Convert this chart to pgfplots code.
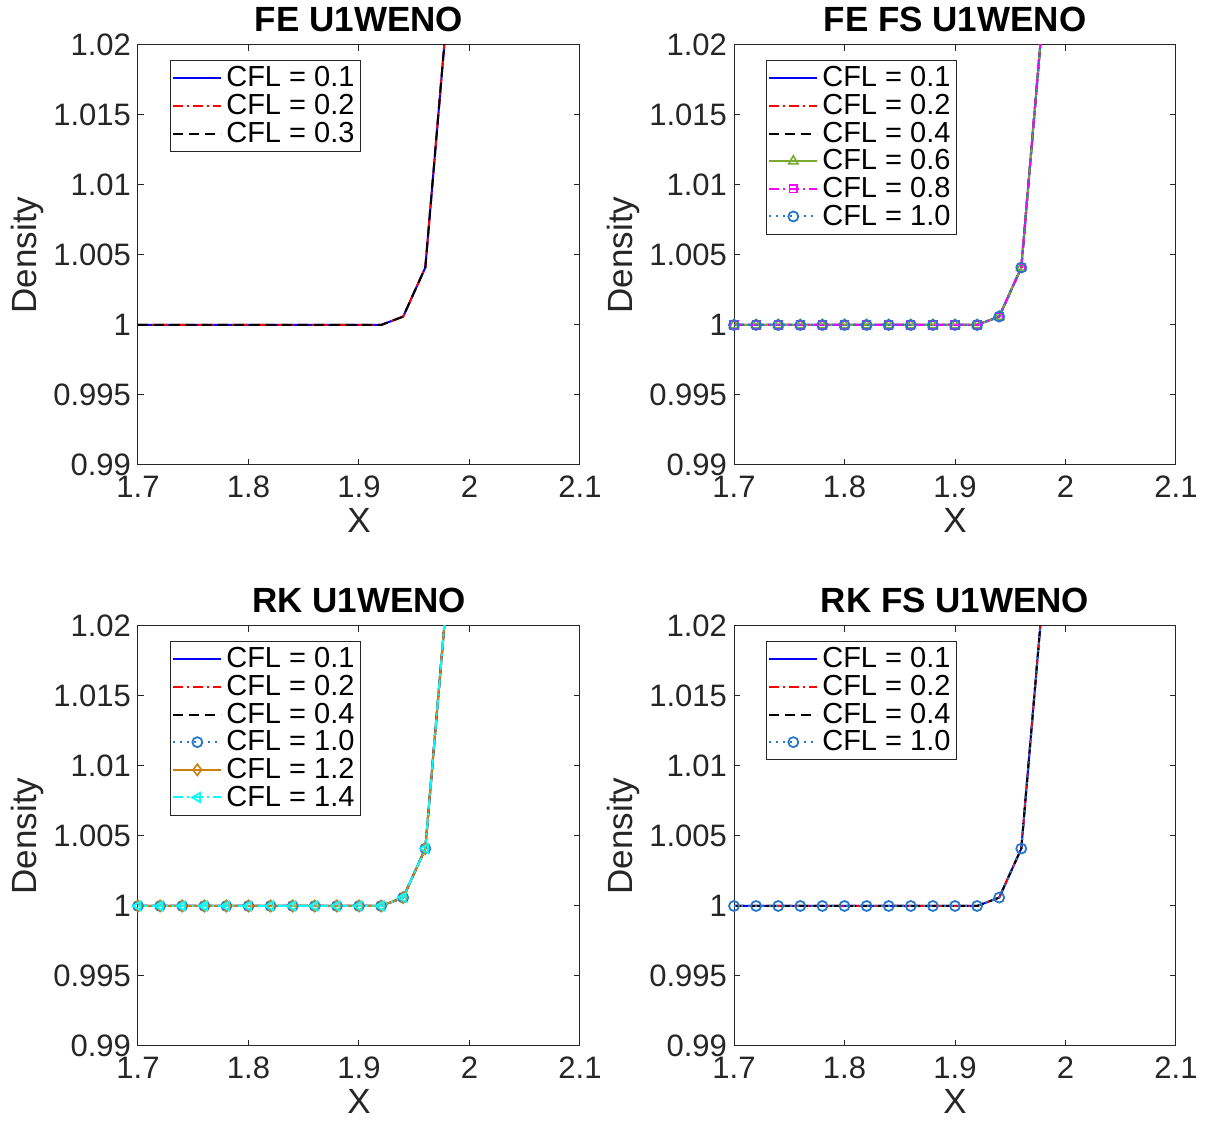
\documentclass[border=0pt]{standalone}
\usepackage{fontspec}
\setmainfont{Liberation Sans}
\usepackage{pgfplots}
\pgfplotsset{compat=1.18}
\usepackage{pgfplotstable}

\definecolor{axgray}{rgb}{0.15,0.15,0.15}
\definecolor{mgreen}{rgb}{0.47,0.67,0.19}
\definecolor{mblue}{rgb}{0.15,0.47,0.80}
\definecolor{morange}{rgb}{0.80,0.50,0.05}
\definecolor{mmag}{rgb}{1,0,1}
\definecolor{mcyan}{rgb}{0,1,1}

% density profile near the shock, same for every CFL
\pgfplotstableread{
x     y
1.70  1.0000
1.72  1.0000
1.74  1.0000
1.76  1.0000
1.78  1.0000
1.80  1.0000
1.82  1.0000
1.84  1.0000
1.86  1.0000
1.88  1.0000
1.90  1.0000
1.92  1.0000
1.94  1.0006
1.96  1.0041
1.98  1.0226
}\dens

\pgfplotsset{
  panel/.style={
    scale only axis, width=221pt, height=210pt,
    xmin=1.7, xmax=2.1, ymin=0.99, ymax=1.02,
    xtick={1.7,1.8,1.9,2,2.1}, xticklabels={1.7,1.8,1.9,2,2.1},
    ytick={0.99,0.995,1,1.005,1.01,1.015,1.02},
    yticklabels={0.99,0.995,1,1.005,1.01,1.015,1.02},
    tick align=inside, major tick length=3pt,
    axis line style={axgray, line width=0.5pt},
    every tick/.style={axgray, line width=0.5pt},
    tick label style={axgray, font=\fontsize{15.5}{17}\selectfont},
    xticklabel style={yshift=-2pt},
    /pgf/number format/assume math mode=true,
    xlabel={X}, ylabel={Density},
    every axis x label/.style={at={(axis description cs:0.5,-0.131)}, anchor=center,
      axgray, font=\fontsize{17.5}{19}\selectfont},
    every axis y label/.style={at={(axis description cs:-0.251,0.5)}, anchor=center,
      rotate=90, axgray, font=\fontsize{17.5}{19}\selectfont},
    every axis title/.style={at={(axis description cs:0.5,1.06)}, anchor=center,
      font=\bfseries\fontsize{17.5}{19}\selectfont},
    clip=true,
    legend style={at={(0.072,0.964)}, anchor=north west, draw=axgray, line width=0.5pt,
      fill=white, font=\fontsize{14.5}{15}\selectfont, inner sep=1pt,
      row sep=-1.8pt, cells={anchor=west}},
    legend image code/.code={
      \draw[mark repeat=2, mark phase=2, #1] plot coordinates {(0pt,0pt) (12pt,0pt) (24pt,0pt)};},
    every axis plot/.append style={line width=1pt, mark size=2.5pt},
  },
  c1/.style={blue, solid},
  c2/.style={red, dash pattern=on 5pt off 2pt on 1pt off 2pt},
  c3/.style={black, dash pattern=on 5pt off 3pt},
  c6/.style={mgreen, solid, mark=triangle, mark size=2.7pt, mark options={solid, line width=0.8pt}},
  c8/.style={mmag, dash pattern=on 5pt off 2pt on 1pt off 2pt, mark=square, mark size=1.9pt, mark options={solid, line width=0.8pt}},
  c10/.style={mblue, dash pattern=on 1pt off 2.5pt, mark=o, mark options={solid, line width=0.9pt}},
  c12/.style={morange, solid, mark=diamond, mark size=2.8pt, mark options={solid, line width=0.8pt}},
  c14/.style={mcyan, dash pattern=on 5pt off 2pt on 1pt off 2pt, mark=triangle, mark size=2.7pt, mark options={solid, rotate=90, line width=0.8pt}},
}

\begin{document}
\begin{tikzpicture}
\useasboundingbox (0,0) rectangle (603pt,561pt);

\begin{axis}[panel, at={(69pt,538.5pt)}, anchor=north west, title={FE U1WENO}]
\addplot[c1] table[x=x,y=y] {\dens}; \addlegendentry{CFL = 0.1}
\addplot[c2] table[x=x,y=y] {\dens}; \addlegendentry{CFL = 0.2}
\addplot[c3] table[x=x,y=y] {\dens}; \addlegendentry{CFL = 0.3}
\end{axis}

\begin{axis}[panel, at={(367pt,538.5pt)}, anchor=north west, title={FE FS U1WENO}]
\addplot[c1] table[x=x,y=y] {\dens}; \addlegendentry{CFL = 0.1}
\addplot[c2] table[x=x,y=y] {\dens}; \addlegendentry{CFL = 0.2}
\addplot[c3] table[x=x,y=y] {\dens}; \addlegendentry{CFL = 0.4}
\addplot[c6] table[x=x,y=y] {\dens}; \addlegendentry{CFL = 0.6}
\addplot[c8] table[x=x,y=y] {\dens}; \addlegendentry{CFL = 0.8}
\addplot[c10] table[x=x,y=y] {\dens}; \addlegendentry{CFL = 1.0}
\end{axis}

\begin{axis}[panel, at={(69pt,248pt)}, anchor=north west, title={RK U1WENO}]
\addplot[c1] table[x=x,y=y] {\dens}; \addlegendentry{CFL = 0.1}
\addplot[c2] table[x=x,y=y] {\dens}; \addlegendentry{CFL = 0.2}
\addplot[c3] table[x=x,y=y] {\dens}; \addlegendentry{CFL = 0.4}
\addplot[c10] table[x=x,y=y] {\dens}; \addlegendentry{CFL = 1.0}
\addplot[c12] table[x=x,y=y] {\dens}; \addlegendentry{CFL = 1.2}
\addplot[c14] table[x=x,y=y] {\dens}; \addlegendentry{CFL = 1.4}
\end{axis}

\begin{axis}[panel, at={(367pt,248pt)}, anchor=north west, title={RK FS U1WENO}]
\addplot[c1] table[x=x,y=y] {\dens}; \addlegendentry{CFL = 0.1}
\addplot[c2] table[x=x,y=y] {\dens}; \addlegendentry{CFL = 0.2}
\addplot[c3] table[x=x,y=y] {\dens}; \addlegendentry{CFL = 0.4}
\addplot[c10] table[x=x,y=y] {\dens}; \addlegendentry{CFL = 1.0}
\end{axis}
\end{tikzpicture}
\end{document}
